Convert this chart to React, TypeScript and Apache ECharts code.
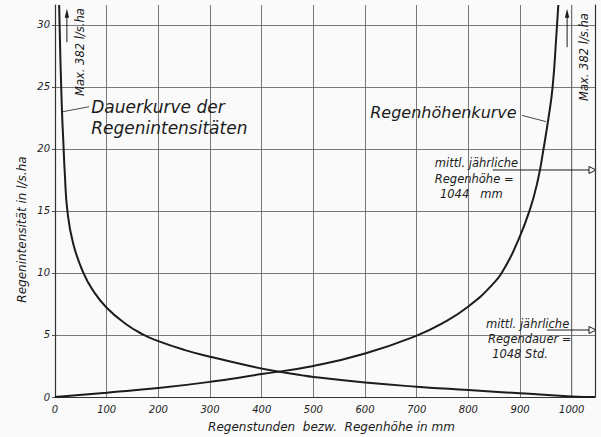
import React, { useEffect, useRef } from "react";
import * as echarts from "echarts";

// Axis ticks
const xTicks = [0, 100, 200, 300, 400, 500, 600, 700, 800, 900, 1000];
const yTicks = [0, 5, 10, 15, 20, 25, 30];
const X_MAX = 1045;
const Y_MAX = 31.6;

// Dauerkurve der Regenintensitäten (decreasing)
const dauerX = [8, 10, 12, 14, 16, 19, 24, 35, 55, 75, 100, 135, 170, 200, 250, 300, 377, 425, 474, 500, 600, 700, 800, 900, 1000, 1045];
const dauerY = [31.6, 28, 25, 22.5, 20.7, 18, 15, 12.4, 10, 8.5, 7.2, 5.95, 5.05, 4.5, 3.8, 3.25, 2.5, 2.1, 1.78, 1.62, 1.17, 0.83, 0.56, 0.3, 0.05, 0];

// Regenhöhenkurve (increasing)
const hoeheX = [0, 100, 200, 300, 400, 500, 600, 700, 750, 800, 845, 870, 895, 919, 935, 945, 955, 963, 970, 974];
const hoeheY = [0, 0.35, 0.72, 1.22, 1.85, 2.5, 3.5, 4.95, 5.95, 7.3, 9.0, 10.4, 12.5, 15.1, 17.6, 19.9, 22.5, 25, 29, 31.6];

// Texts
const yTitle = "Regenintensität in l/s.ha";
const xTitle = "Regenstunden  bezw.  Regenhöhe in mm";
const maxText = "Max. 382 l/s.ha";
const dauerLabel = ["Dauerkurve der", "Regenintensitäten"];
const hoeheLabel = "Regenhöhenkurve";
const hoeheNote = ["mittl. jährliche", "Regenhöhe =", "1044   mm"];
const dauerNote = ["mittl. jährliche", "Regendauer =", "1048 Std."];

const FONT = "'DejaVu Sans', 'Liberation Sans', sans-serif";
const INK = "#1c1c1c";
const GRID = "#6a6a6a";

export default function App() {
  const ref = useRef<HTMLDivElement>(null);
  useEffect(() => {
    if (!ref.current) return;
    const chart = echarts.init(ref.current, undefined, { renderer: "svg" });
    const labelStyle = { fontFamily: FONT, fontStyle: "italic", fontSize: 10, color: INK, formatter: (v: number) => String(v) };
    chart.setOption({
      animation: false,
      backgroundColor: "#fafafa",
      grid: { left: 55, right: 6, top: 5, bottom: 40 },
      xAxis: {
        type: "value",
        min: 0,
        max: X_MAX,
        interval: 100,
        axisLine: { show: true, lineStyle: { color: "#333", width: 1.2 } },
        axisTick: { show: true, length: 0, customValues: xTicks },
        axisLabel: { ...labelStyle, margin: 7, customValues: xTicks },
        splitLine: { show: true, showMinLine: true, showMaxLine: true, lineStyle: { color: GRID, width: 0.9 } },
      },
      yAxis: [
        {
          type: "value",
          min: 0,
          max: Y_MAX,
          interval: 5,
          axisLine: { show: true, lineStyle: { color: "#333", width: 1.2 } },
          axisTick: { show: true, length: 3, customValues: yTicks, lineStyle: { color: "#555" } },
          axisLabel: { ...labelStyle, margin: 5, customValues: yTicks },
          splitLine: { show: true, showMinLine: true, showMaxLine: true, lineStyle: { color: GRID, width: 0.9 } },
        },
        {
          type: "value",
          position: "right",
          min: 0,
          max: Y_MAX,
          axisLine: { show: true, lineStyle: { color: "#333", width: 1.2 } },
          axisTick: { show: false },
          axisLabel: { show: false },
          splitLine: { show: false },
        },
      ],
      series: [
        {
          type: "line",
          data: dauerX.map((x, i) => [x, dauerY[i]]),
          showSymbol: false,
          smooth: 0.5,
          lineStyle: { color: INK, width: 2 },
        },
        {
          type: "line",
          data: hoeheX.map((x, i) => [x, hoeheY[i]]),
          showSymbol: false,
          smooth: 0.5,
          lineStyle: { color: INK, width: 2 },
        },
      ],
    });

    const p = (x: number, y: number) => chart.convertToPixel({ xAxisIndex: 0, yAxisIndex: 0 }, [x, y]) as number[];
    const txt = (text: string, x: number, y: number, size: number, align = "left", rotation = 0) => ({
      type: "text",
      x,
      y,
      rotation,
      silent: true,
      style: {
        text,
        fill: INK,
        fontFamily: FONT,
        fontStyle: "italic",
        fontSize: size,
        align,
        textAlign: align,
        verticalAlign: "middle",
        textVerticalAlign: "middle",
      },
    });
    const line = (a: number[], b: number[], w = 1, color = INK) => ({
      type: "line",
      silent: true,
      shape: { x1: a[0], y1: a[1], x2: b[0], y2: b[1] },
      style: { stroke: color, lineWidth: w },
    });
    const upArrow = (x: number, y0: number, y1: number) => {
      const b = p(x, y0);
      const t = p(x, y1);
      return [
        line([b[0], b[1]], [t[0], t[1] + 6], 1),
        {
          type: "polygon",
          silent: true,
          shape: { points: [[t[0], t[1]], [t[0] - 2.2, t[1] + 9], [t[0] + 2.2, t[1] + 9]] },
          style: { fill: INK },
        },
      ];
    };
    const rightArrow = (x0: number, y: number) => {
      const a = p(x0, y);
      const e = p(X_MAX, y);
      return [
        line([a[0], a[1]], [e[0] - 6, e[1]], 1),
        {
          type: "polygon",
          silent: true,
          shape: { points: [[e[0] + 1, e[1]], [e[0] - 6, e[1] - 3.5], [e[0] - 6, e[1] + 3.5]] },
          style: { fill: "#fafafa", stroke: INK, lineWidth: 1 },
        },
      ];
    };

    const elements: any[] = [];
    // gridline at the last x tick (drawn from the tick list)
    const lastX = xTicks[xTicks.length - 1];
    elements.push(line(p(lastX, 0), p(lastX, Y_MAX), 0.9, GRID));

    // axis titles
    const yt = p(0, 13.5);
    elements.push(txt(yTitle, 22, yt[1], 12, "center", Math.PI / 2));
    const xt = p(535, 0);
    elements.push(txt(xTitle, xt[0], 427, 12, "center"));

    // Max arrows + texts
    elements.push(...upArrow(23, 28.6, 31.3));
    const ml = p(48, 27.8);
    elements.push(txt(maxText, ml[0], ml[1], 11.5, "center", Math.PI / 2));
    elements.push(...upArrow(991, 28.2, 31.3));
    const mr = p(1024, 27.4);
    elements.push(txt(maxText, mr[0], mr[1], 11.5, "center", Math.PI / 2));

    // curve labels
    const d1 = p(70, 23.4);
    const d2 = p(70, 21.7);
    elements.push(txt(dauerLabel[0], d1[0], d1[1], 17));
    elements.push(txt(dauerLabel[1], d2[0], d2[1], 17));
    elements.push(line(p(66, 23.4), p(15.5, 23.0), 0.8));
    const h1 = p(610, 22.9);
    elements.push(txt(hoeheLabel, h1[0], h1[1], 16));
    elements.push(line(p(904, 22.7), p(950, 22.2), 0.8));

    // annotations
    const hy = [18.9, 17.6, 16.4];
    const hx = [735, 735, 745];
    hoeheNote.forEach((s, i) => {
      const q = p(hx[i], hy[i]);
      elements.push(txt(s, q[0], q[1], 11.5));
    });
    elements.push(...rightArrow(847, 18.3));
    const dy = [5.9, 4.7, 3.5];
    const dx = [834, 838, 846];
    dauerNote.forEach((s, i) => {
      const q = p(dx[i], dy[i]);
      elements.push(txt(s, q[0], q[1], 11.5));
    });
    elements.push(...rightArrow(952, 5.4));

    chart.setOption({ graphic: { elements } });
    return () => chart.dispose();
  }, []);
  return <div ref={ref} style={{ position: "absolute", left: 0, top: 0, width: 601, height: 437 }} />;
}
